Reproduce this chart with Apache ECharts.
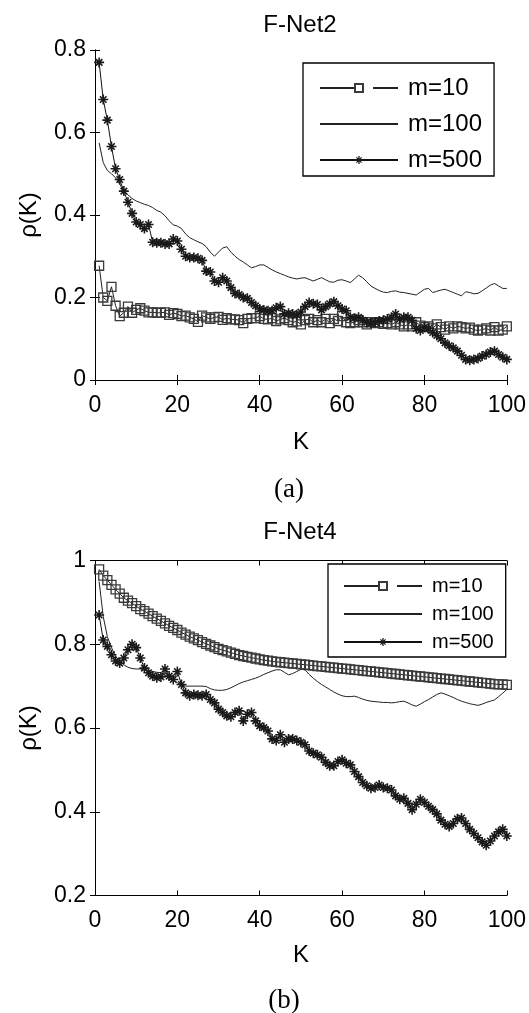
<!DOCTYPE html>
<html>
<head>
<meta charset="utf-8">
<script src="https://cdn.jsdelivr.net/npm/echarts@6/dist/echarts.min.js"></script>
<style>
html,body{margin:0;padding:0;background:#fff;}
#c{width:529px;height:1013px;}
</style>
</head>
<body>
<div id="c"></div>
<script>
// K values 1..100
const K = Array.from({length: 100}, (_, i) => i + 1);
const xTicks = [0, 20, 40, 60, 80, 100];
const seriesNames = ['m=10', 'm=100', 'm=500'];

// F-Net2
const f2m10 = [0.277,0.2,0.192,0.226,0.18,0.155,0.163,0.178,0.163,0.17,0.174,0.168,0.164,0.164,0.163,0.163,0.164,0.158,0.162,0.16,
0.155,0.156,0.152,0.148,0.141,0.156,0.152,0.148,0.152,0.153,0.146,0.15,0.147,0.147,0.145,0.138,0.148,0.15,0.15,0.155,
0.148,0.147,0.15,0.143,0.147,0.15,0.145,0.14,0.142,0.135,0.145,0.148,0.14,0.145,0.14,0.148,0.138,0.148,0.143,0.155,
0.14,0.138,0.14,0.145,0.14,0.135,0.14,0.138,0.14,0.136,0.138,0.135,0.14,0.135,0.13,0.135,0.13,0.14,0.132,0.128,
0.13,0.125,0.135,0.128,0.122,0.13,0.125,0.13,0.128,0.125,0.127,0.122,0.12,0.122,0.125,0.12,0.128,0.12,0.122,0.13];
const f2m100 = [0.575,0.527,0.508,0.5,0.49,0.475,0.458,0.449,0.44,0.434,0.43,0.426,0.423,0.418,0.411,0.407,0.398,0.386,0.376,0.373,
0.367,0.354,0.345,0.34,0.335,0.331,0.323,0.31,0.3,0.31,0.32,0.323,0.31,0.3,0.292,0.286,0.279,0.272,0.275,0.279,
0.279,0.273,0.267,0.262,0.258,0.254,0.25,0.247,0.245,0.247,0.248,0.244,0.24,0.244,0.248,0.243,0.238,0.237,0.242,0.243,
0.24,0.236,0.245,0.254,0.248,0.238,0.228,0.222,0.217,0.213,0.212,0.215,0.216,0.213,0.212,0.21,0.208,0.206,0.213,0.22,
0.222,0.212,0.215,0.218,0.22,0.216,0.212,0.208,0.204,0.214,0.212,0.209,0.21,0.216,0.223,0.23,0.234,0.228,0.222,0.222];
const f2m500 = [0.77,0.68,0.63,0.566,0.512,0.486,0.458,0.431,0.404,0.383,0.377,0.367,0.377,0.334,0.333,0.333,0.33,0.33,0.342,0.337,
0.317,0.3,0.297,0.297,0.295,0.29,0.264,0.262,0.24,0.237,0.248,0.24,0.224,0.21,0.207,0.2,0.198,0.188,0.18,0.172,
0.17,0.168,0.168,0.175,0.178,0.16,0.162,0.16,0.158,0.165,0.178,0.188,0.185,0.183,0.17,0.178,0.185,0.19,0.18,0.172,
0.168,0.152,0.15,0.152,0.145,0.14,0.138,0.14,0.143,0.145,0.148,0.152,0.16,0.148,0.152,0.152,0.145,0.125,0.12,0.128,
0.125,0.115,0.108,0.1,0.09,0.083,0.078,0.07,0.06,0.05,0.048,0.05,0.052,0.058,0.062,0.068,0.07,0.062,0.055,0.05];

// F-Net4
const f4m10 = [0.979,0.964,0.953,0.942,0.931,0.921,0.911,0.904,0.898,0.891,0.884,0.879,0.873,0.867,0.861,0.856,0.85,0.844,0.839,0.834,
0.828,0.823,0.818,0.814,0.81,0.805,0.801,0.797,0.793,0.789,0.786,0.783,0.78,0.777,0.774,0.772,0.77,0.768,0.766,0.764,
0.762,0.761,0.759,0.758,0.757,0.756,0.755,0.754,0.753,0.752,0.751,0.75,0.749,0.748,0.747,0.746,0.745,0.744,0.743,0.742,
0.741,0.74,0.739,0.738,0.737,0.736,0.735,0.734,0.733,0.732,0.731,0.73,0.729,0.728,0.727,0.726,0.725,0.724,0.723,0.722,
0.721,0.72,0.719,0.718,0.717,0.716,0.715,0.714,0.713,0.712,0.711,0.71,0.709,0.708,0.707,0.706,0.705,0.704,0.704,0.703];
const f4m100 = [0.95,0.866,0.818,0.792,0.771,0.76,0.751,0.745,0.742,0.741,0.741,0.739,0.737,0.735,0.733,0.732,0.727,0.721,0.715,0.708,
0.703,0.7,0.7,0.7,0.7,0.7,0.699,0.694,0.691,0.69,0.69,0.692,0.696,0.701,0.706,0.71,0.713,0.716,0.719,0.723,
0.728,0.732,0.736,0.739,0.739,0.733,0.727,0.73,0.735,0.74,0.739,0.728,0.719,0.711,0.704,0.698,0.692,0.686,0.681,0.677,
0.675,0.675,0.676,0.673,0.669,0.666,0.664,0.663,0.662,0.661,0.661,0.66,0.661,0.663,0.664,0.66,0.655,0.652,0.657,0.663,
0.668,0.674,0.68,0.684,0.681,0.677,0.673,0.668,0.664,0.661,0.658,0.656,0.654,0.657,0.661,0.664,0.667,0.675,0.683,0.692];
const f4m500 = [0.87,0.81,0.795,0.775,0.76,0.755,0.767,0.787,0.8,0.792,0.767,0.743,0.732,0.724,0.72,0.722,0.741,0.724,0.716,0.735,
0.704,0.684,0.677,0.68,0.678,0.677,0.68,0.668,0.66,0.645,0.637,0.629,0.627,0.637,0.641,0.617,0.633,0.637,0.617,0.605,
0.601,0.593,0.574,0.57,0.584,0.566,0.574,0.574,0.57,0.566,0.56,0.545,0.54,0.536,0.53,0.518,0.51,0.51,0.52,0.524,
0.516,0.512,0.496,0.484,0.47,0.462,0.456,0.458,0.464,0.458,0.456,0.452,0.438,0.43,0.432,0.42,0.405,0.418,0.43,0.422,
0.413,0.405,0.395,0.38,0.37,0.365,0.372,0.383,0.385,0.372,0.358,0.348,0.338,0.328,0.32,0.33,0.342,0.352,0.358,0.342];

const FONT = '"Liberation Sans", Arial, Helvetica, sans-serif';
const SERIF = '"Liberation Serif", "Times New Roman", serif';
const STAR = 'path://M0 4.2H10V5.8H0Z M4.2 0H5.8V10H4.2Z M1.2 2.3L2.3 1.2L8.8 7.7L7.7 8.8Z M7.7 1.2L8.8 2.3L2.3 8.8L1.2 7.7Z';

function pairs(arr) { return K.map((k, i) => [k, arr[i]]); }

function axesFor(g, ymin, ymax, nameGapX) {
  const common = {
    gridIndex: g, type: 'value', min: 0, max: 100, interval: 20,
    axisLine: {show: true, lineStyle: {color: '#000', width: 1}},
    axisTick: {show: true, inside: true, length: 5, lineStyle: {color: '#000', width: 1}},
    splitLine: {show: false}
  };
  const xs = [
    Object.assign({}, common, {
      position: 'bottom',
      axisLabel: {show: true, color: '#000', fontSize: 23, fontFamily: FONT, margin: 14},
      name: 'K', nameLocation: 'middle', nameGap: nameGapX,
      nameTextStyle: {color: '#000', fontSize: 24, fontFamily: FONT}
    }),
    Object.assign({}, common, {position: 'top', axisLabel: {show: false}})
  ];
  const ycommon = {
    gridIndex: g, type: 'value', min: ymin, max: ymax, interval: 0.2,
    axisLine: {show: true, lineStyle: {color: '#000', width: 1}},
    axisTick: {show: true, inside: true, length: 5, lineStyle: {color: '#000', width: 1}},
    splitLine: {show: false}
  };
  const ys = [
    Object.assign({}, ycommon, {
      position: 'left',
      axisLabel: {show: true, color: '#000', fontSize: 23, fontFamily: FONT, margin: 9},
      name: 'ρ(K)', nameLocation: 'middle', nameGap: 54,
      nameTextStyle: {color: '#000', fontSize: 24, fontFamily: FONT}
    }),
    Object.assign({}, ycommon, {position: 'right', axisLabel: {show: false}})
  ];
  return {xs, ys};
}

function seriesFor(axisIdx, a10, a100, a500) {
  return [
    {
      name: 'm=10', type: 'line', xAxisIndex: axisIdx, yAxisIndex: axisIdx,
      data: pairs(a10), symbol: 'rect', symbolSize: 9, showAllSymbol: true,
      lineStyle: {color: '#222', width: 1},
      itemStyle: {color: 'rgba(255,255,255,0)', borderColor: '#3a3a3a', borderWidth: 1.3},
      emphasis: {disabled: true}, animation: false, z: 3
    },
    {
      name: 'm=100', type: 'line', xAxisIndex: axisIdx, yAxisIndex: axisIdx,
      data: pairs(a100), symbol: 'none', showSymbol: false,
      lineStyle: {color: '#222', width: 1}, itemStyle: {color: '#222'},
      emphasis: {disabled: true}, animation: false, z: 2
    },
    {
      name: 'm=500', type: 'line', xAxisIndex: axisIdx, yAxisIndex: axisIdx,
      data: pairs(a500), symbol: STAR, symbolSize: 10, symbolKeepAspect: true, showAllSymbol: true,
      lineStyle: {color: '#111', width: 1}, itemStyle: {color: '#1a1a1a'},
      emphasis: {disabled: true}, animation: false, z: 4
    }
  ];
}

const a1 = axesFor(0, 0, 0.8, 50);
const a2 = axesFor(1, 0.2, 1, 48);

const legendCommon = {
  orient: 'vertical', itemWidth: 78, itemHeight: 10, selectedMode: false,
  backgroundColor: '#fff', borderColor: '#000', borderWidth: 1.3, borderRadius: 0,
  data: [
    {name: 'm=10', lineStyle: {type: [35, 18]}},
    {name: 'm=100', itemStyle: {opacity: 0}},
    {name: 'm=500'}
  ]
};

const option = {
  animation: false,
  backgroundColor: '#fff',
  grid: [
    {left: 95, top: 50, width: 412, height: 330},
    {left: 95, top: 560.5, width: 412, height: 335}
  ],
  xAxis: [a1.xs[0], a1.xs[1], a2.xs[0], a2.xs[1]],
  yAxis: [a1.ys[0], a1.ys[1], a2.ys[0], a2.ys[1]],
  legend: [
    Object.assign({}, legendCommon, {
      left: 303, top: 63, padding: [13, 12, 4, 16], itemGap: 12,
      textStyle: {fontSize: 24, lineHeight: 24, color: '#000', fontFamily: FONT, padding: [0, 0, 0, 5]}
    }),
    Object.assign({}, legendCommon, {
      left: 328, top: 564, padding: [12, 12, 5, 15], itemGap: 8,
      textStyle: {fontSize: 20, lineHeight: 20, color: '#000', fontFamily: FONT, padding: [0, 0, 0, 5]}
    })
  ],
  series: [].concat(seriesFor(0, f2m10, f2m100, f2m500), seriesFor(2, f4m10, f4m100, f4m500)),
  graphic: [
    {type: 'text', x: 300, y: 25, style: {text: 'F-Net2', fill: '#000', font: '24px ' + FONT, align: 'center', verticalAlign: 'middle'}},
    {type: 'text', x: 289, y: 490, style: {text: '(a)', fill: '#000', font: '27px ' + SERIF, align: 'center', verticalAlign: 'middle'}},
    {type: 'text', x: 300, y: 532, style: {text: 'F-Net4', fill: '#000', font: '24px ' + FONT, align: 'center', verticalAlign: 'middle'}},
    {type: 'text', x: 284, y: 1001, style: {text: '(b)', fill: '#000', font: '27px ' + SERIF, align: 'center', verticalAlign: 'middle'}}
  ]
};

const chart = echarts.init(document.getElementById('c'), null, {renderer: 'canvas'});
chart.setOption(option);
</script>
</body>
</html>
